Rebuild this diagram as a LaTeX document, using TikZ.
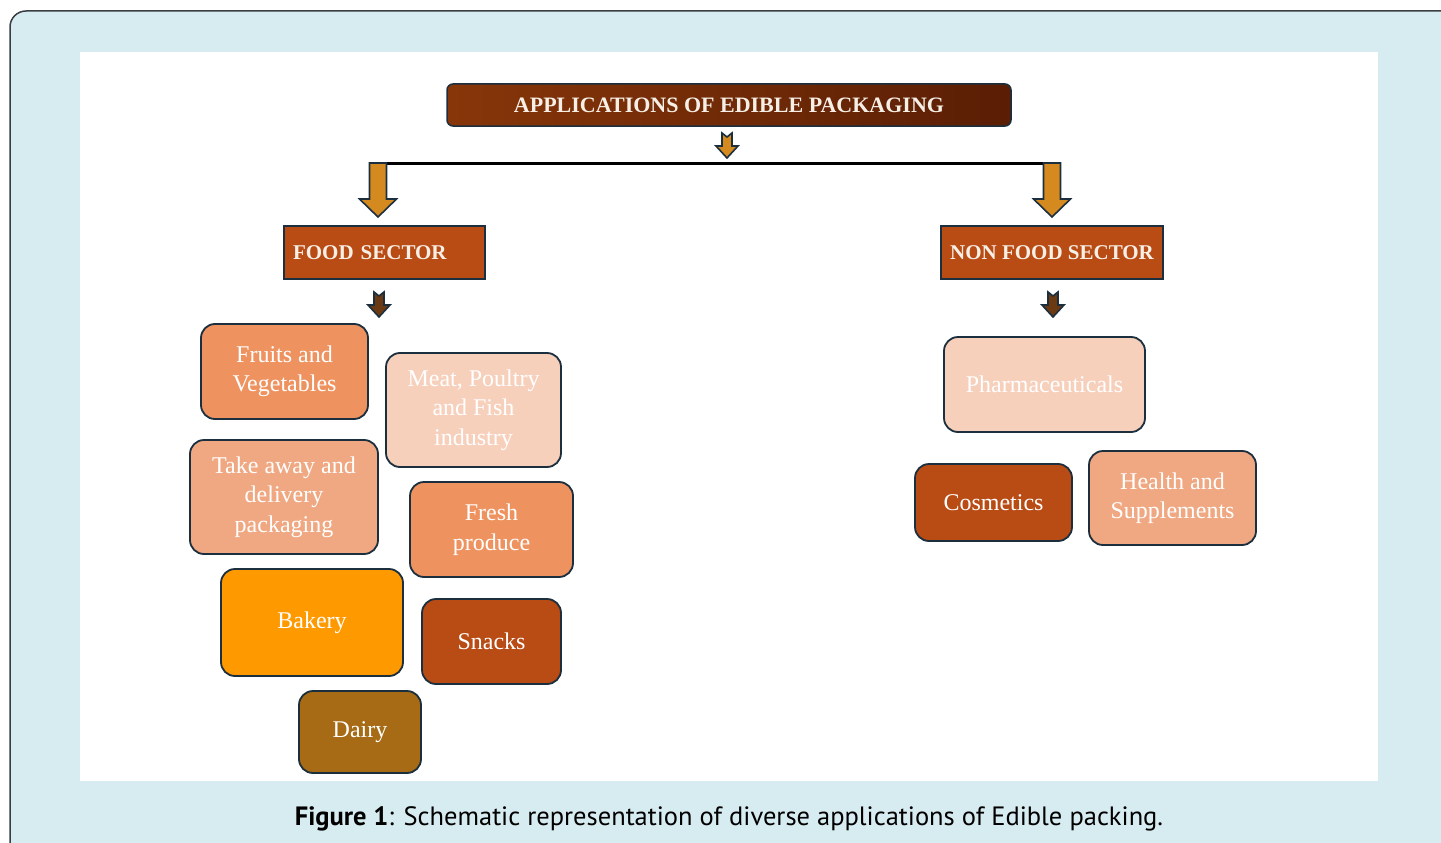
\documentclass[tikz,border=0pt]{standalone}
\usepackage{fontspec}
\setmainfont{Liberation Serif}
\newfontfamily\capfont{PT Sans}
\usetikzlibrary{positioning}

\definecolor{panelblue}{HTML}{D7ECF1}
\definecolor{framegray}{HTML}{3A3F44}
\definecolor{navy}{HTML}{1C2F3F}
\definecolor{rust}{HTML}{B94B14}
\definecolor{salmon}{HTML}{EE9360}
\definecolor{peach}{HTML}{F0A882}
\definecolor{blush}{HTML}{F7D0BC}
\definecolor{amber}{HTML}{FF9900}
\definecolor{ochre}{HTML}{A66B14}
\definecolor{gold}{HTML}{D48A1E}
\definecolor{umber}{HTML}{6B3A12}
\definecolor{titleL}{HTML}{873609}
\definecolor{titleR}{HTML}{5A1E05}
\definecolor{ivory}{HTML}{F6EFE6}

\begin{document}
\begin{tikzpicture}[
  x=1pt,y=-1pt,
  item/.style={rectangle,rounded corners=14pt,draw=navy,line width=1.8pt,
               text=white,align=center,font=\fontsize{24}{29.5}\selectfont},
  sector/.style={rectangle,draw=navy,line width=1.8pt,fill=rust,text=ivory,
                 inner xsep=9pt,font=\fontsize{21}{25}\selectfont\bfseries},
  arrline/.style={draw=navy,line width=1.6pt,line join=miter},
  pics/bigarr/.style={code={
    \draw[arrline,fill=gold] (-8.5,0) -- (8.5,0) -- (8.5,36) -- (18.5,36)
      -- (0,54) -- (-18.5,36) -- (-8.5,36) -- cycle;}},
  pics/smallarr/.style={code={
    \draw[arrline,fill=#1] (-5,0) -- (0,4) -- (5,0) -- (5,13) -- (11,13)
      -- (0,25) -- (-11,13) -- (-5,13) -- cycle;}},
]
  % Frame and white panel
  \clip (0,0) rectangle (1441,843);
  \draw[fill=panelblue,draw=framegray,line width=1.5pt,rounded corners=16pt]
    (10,11) rectangle (1480,880);
  \fill[white] (80,52) rectangle (1378,781);

  % Title
  \node[rectangle,rounded corners=6pt,draw=navy,line width=1.5pt,
        left color=titleL,right color=titleR,text=ivory,
        minimum width=564,minimum height=42,
        font=\fontsize{22}{26}\selectfont\bfseries]
    (title) at (729,105) {APPLICATIONS OF EDIBLE PACKAGING};
  \pic at (727,133) {smallarr=gold};

  % Branch line and big arrows
  \coordinate (busL) at (378,163);
  \coordinate (busR) at (1052,163);
  \draw[line width=3pt] (busL) -- (busR);
  \pic at (busL) {bigarr};
  \pic at (busR) {bigarr};

  % Sectors
  \node[sector,text width=183,align=left,minimum height=53] (food) at (384.5,252.5) {FOOD SECTOR};
  \node[sector,minimum width=222,minimum height=53] (nonfood) at (1052,252.5) {NON FOOD SECTOR};
  \pic at (379,292) {smallarr=umber};
  \pic at (1053,292) {smallarr=umber};

  % Food sector items
  \node[item,fill=salmon,minimum width=167,minimum height=95] (fruit) at (284.5,371.5) {Fruits and\\Vegetables};
  \node[item,fill=blush,minimum width=175,minimum height=114] (meat) at (473.5,410) {Meat, Poultry\\and Fish\\industry};
  \node[item,fill=peach,minimum width=188,minimum height=114] (takeaway) at (284,497) {Take away and\\delivery\\packaging};
  \node[item,fill=salmon,minimum width=163,minimum height=95] (fresh) at (491.5,529.5) {Fresh\\produce};
  \node[item,fill=amber,minimum width=182,minimum height=107] (bakery) at (312,622.5) {Bakery};
  \node[item,fill=rust,minimum width=139,minimum height=85] (snacks) at (491.5,641.5) {Snacks};
  \node[item,fill=ochre,minimum width=122,minimum height=82] (dairy) at (360,732) {Dairy};

  % Non food sector items
  \node[item,fill=blush,minimum width=201,minimum height=95] (pharma) at (1044.5,384.5) {Pharmaceuticals};
  \node[item,fill=rust,minimum width=157,minimum height=77] (cosm) at (993.5,502.5) {Cosmetics};
  \node[item,fill=peach,minimum width=167,minimum height=94] (health) at (1172.5,498) {Health and\\Supplements};

  % Caption
  \node[font=\capfont\fontsize{26.5}{30}\selectfont,text=black] (caption) at (729,819)
    {\textbf{Figure 1}: Schematic representation of diverse applications of Edible packing.};
\end{tikzpicture}
\end{document}
